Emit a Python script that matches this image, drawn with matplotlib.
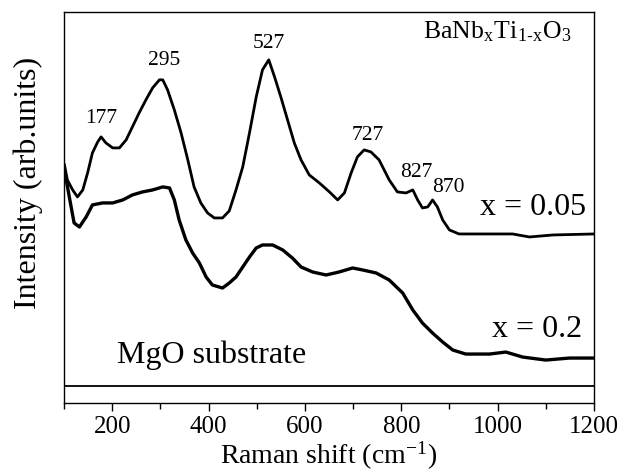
import matplotlib
matplotlib.use("Agg")
import matplotlib.pyplot as plt
from matplotlib.ticker import MultipleLocator

plt.rcParams['font.family'] = ['Liberation Serif', 'DejaVu Serif']
plt.rcParams['mathtext.fontset'] = 'stix'

# Raman shift (cm^-1) and intensity (arb. units)
shift_005 = [101, 107, 118, 128, 139, 149, 159, 170, 177, 187, 201, 215, 229, 242,
             256, 270, 284, 298, 305, 315, 329, 343, 357, 370, 384, 398, 412, 429,
             443, 457, 471, 485, 499, 512, 525, 537, 550, 564, 578, 592, 609, 630,
             651, 668, 682, 696, 709, 723, 737, 754, 775, 792, 810, 824, 834, 844,
             855, 865, 875, 886, 900, 920, 962, 1031, 1066, 1115, 1200]
int_005 = [238, 223, 213, 206, 213, 230, 250, 261, 266, 260, 255, 255, 263, 276,
           290, 303, 315, 323, 323, 313, 293, 270, 243, 216, 200, 190, 185, 185,
           192, 213, 236, 270, 306, 333, 343, 326, 306, 283, 260, 243, 228, 220,
           211, 203, 210, 230, 246, 253, 251, 243, 223, 211, 210, 213, 203, 195,
           196, 203, 196, 183, 173, 169, 169, 169, 166, 168, 169]

shift_02 = [101, 111, 121, 132, 146, 159, 180, 201, 222, 242, 263, 284, 305, 319,
            329, 339, 353, 367, 381, 395, 408, 429, 443, 457, 471, 485, 499, 512,
            533, 554, 574, 592, 616, 644, 671, 699, 720, 748, 775, 803, 824, 844,
            865, 886, 907, 934, 983, 1017, 1052, 1100, 1149, 1200]
int_02 = [233, 206, 180, 176, 186, 198, 200, 200, 203, 208, 211, 213, 216, 215,
          203, 183, 163, 150, 140, 126, 118, 115, 120, 126, 136, 146, 155, 158,
          158, 153, 145, 136, 131, 128, 131, 135, 133, 130, 123, 110, 93, 80,
          70, 61, 53, 49, 49, 51, 46, 43, 45, 45]

shift_mgo = [100, 1200]
int_mgo = [17, 17]

peak_labels = ["177", "295", "527", "727", "827", "870"]
peak_label_x = [177, 308, 526, 730, 832, 897]
peak_label_y = [280, 338, 355, 263, 226, 211]

fig = plt.figure(figsize=(6.38, 4.72), dpi=100)
ax = fig.add_axes([0.1003, 0.146, 0.8307, 0.829])

ax.plot(shift_005, int_005, color='black', lw=2.0)
ax.plot(shift_02, int_02, color='black', lw=2.4)
ax.plot(shift_mgo, int_mgo, color='black', lw=1.3)

ax.set_xlim(100, 1200)
ax.set_ylim(0, 391)
ax.set_yticks([])
ax.xaxis.set_major_locator(MultipleLocator(200))
ax.xaxis.set_minor_locator(MultipleLocator(100))
ax.tick_params(axis='x', which='major', direction='out', length=6, width=1,
               labelsize=18, pad=3)
ax.tick_params(axis='x', which='minor', direction='out', length=4, width=1)
for s in ax.spines.values():
    s.set_linewidth(1.0)

for t, x, y in zip(peak_labels, peak_label_x, peak_label_y):
    ax.text(x, y, t, ha='center', va='baseline', fontsize=15.5)

ax.text(1073, 188, "x = 0.05", ha='center', va='baseline', fontsize=23)
ax.text(1082, 66, "x = 0.2", ha='center', va='baseline', fontsize=23)
ax.text(406, 40, "MgO substrate", ha='center', va='baseline', fontsize=23)
ax.text(1000, 364, r"BaNb$_\mathregular{x}$Ti$_\mathregular{1\text{-}x}$O$_\mathregular{3}$",
        ha='center', va='baseline', fontsize=18.5)

ax.set_xlabel(r"Raman shift (cm$^\mathregular{-1}$)", fontsize=20, labelpad=1)
fig.text(0.044, 0.612, "Intensity (arb.units)", rotation=90, ha='center',
         va='center', fontsize=23)

fig.savefig("out.png", dpi=100)
